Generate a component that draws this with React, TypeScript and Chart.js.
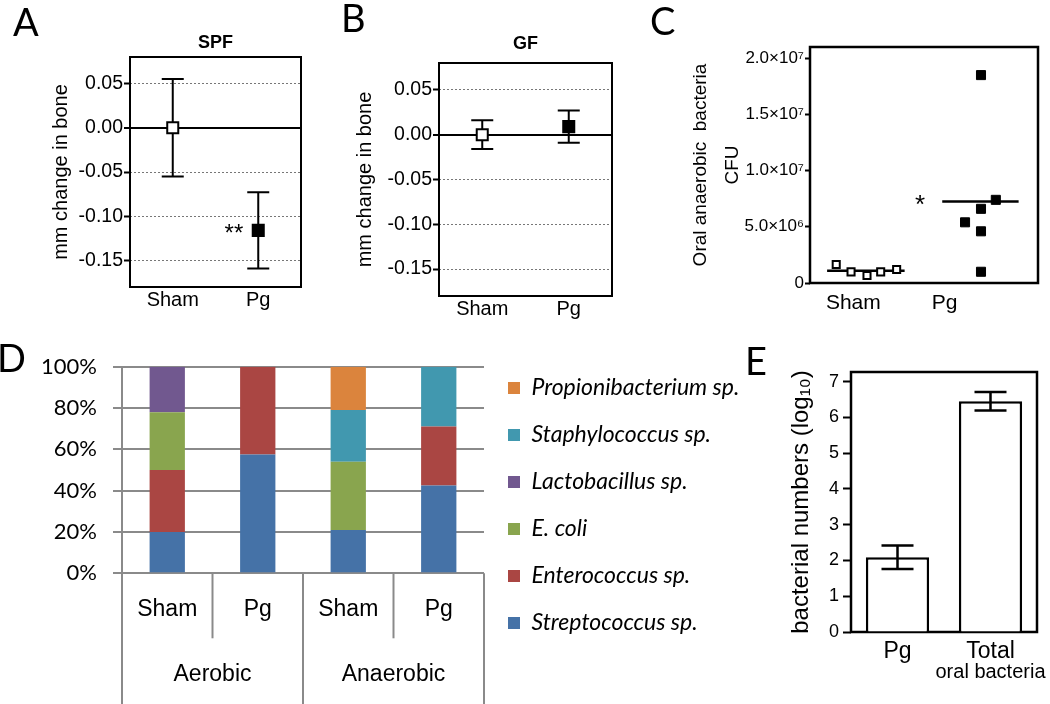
import React, { useEffect, useRef } from 'react';
import { Chart, registerables } from 'chart.js';

Chart.register(...registerables);

const ARIAL = '"Liberation Sans", Arial, Helvetica, sans-serif';
const CALIBRI = 'Lato, "Open Sans", sans-serif';
const GRID = '#8a8a8a';

// ---------------- data ----------------
// A / B : bone change
const boneGroups = ['Sham', 'Pg'];
const boneTicks = [-0.15, -0.1, -0.05, 0, 0.05];
const spfMeans = [0, -0.116];
const spfErrors = [0.055, 0.043];
const gfMeans = [0, 0.009];
const gfErrors = [0.016, 0.018];

// C : oral anaerobic bacteria CFU
const cfuGroups = ['Sham', 'Pg'];
const cfuSham = [1.65e6, 0.99e6, 0.66e6, 0.99e6, 1.2e6];
const cfuPg = [1.85e7, 7.4e6, 6.6e6, 5.4e6, 4.6e6, 1.0e6];
const cfuMeans = [1.1e6, 7.25e6];
const cfuTicks = [0, 5e6, 1e7, 1.5e7, 2e7];
const cfuTickLabels = ['0', '5.0×10⁶', '1.0×10⁷', '1.5×10⁷', '2.0×10⁷'];

// D : composition
const compCategories = ['Sham', 'Pg', 'Sham', 'Pg'];
const compGroups = ['Aerobic', 'Anaerobic'];
const compTicks = [0, 20, 40, 60, 80, 100];
const streptococcus = [20, 57.5, 21, 42.5];
const enterococcus = [30, 42.5, 0, 28.5];
const eColi = [28, 0, 33, 0];
const lactobacillus = [22, 0, 0, 0];
const staphylococcus = [0, 0, 25, 29];
const propionibacterium = [0, 0, 21, 0];

// E : bacterial numbers
const countCategories = ['Pg', 'Total'];
const countSubLabel = 'oral bacteria';
const countTicks = [0, 1, 2, 3, 4, 5, 6, 7];
const countMeans = [2.09, 6.45];
const countErrors = [0.33, 0.26];

// ---------------- styles ----------------
const shamJitter = [-0.27, -0.14, 0, 0.12, 0.26];
const pgJitter = [0, 0.13, 0, -0.14, 0, 0];
const meanSpans = [[-0.35, 0.33], [0.66, 1.33]];
const cfuLabelPos = [-0.12, 0.68];

const speciesSeries = [
  { label: 'Streptococcus sp.', data: streptococcus, color: '#4572A7' },
  { label: 'Enterococcus sp.', data: enterococcus, color: '#AA4643' },
  { label: 'E. coli', data: eColi, color: '#89A54E' },
  { label: 'Lactobacillus sp.', data: lactobacillus, color: '#71588F' },
  { label: 'Staphylococcus sp.', data: staphylococcus, color: '#4198AF' },
  { label: 'Propionibacterium sp.', data: propionibacterium, color: '#DB843D' },
];

// ---------------- plugins ----------------
function framePlugin(width: number) {
  return {
    id: 'frame',
    beforeDatasetsDraw(chart: any) {
      const { ctx, chartArea: a } = chart;
      ctx.save();
      ctx.strokeStyle = '#000';
      ctx.lineWidth = width;
      ctx.strokeRect(a.left, a.top, a.right - a.left, a.bottom - a.top);
      ctx.restore();
    },
  };
}

function errorBarsPlugin(xs: number[], means: number[], errs: number[], cap: number, width: number, after: boolean) {
  const draw = (chart: any) => {
    const { ctx, scales } = chart;
    ctx.save();
    ctx.strokeStyle = '#000';
    ctx.lineWidth = width;
    means.forEach((m, i) => {
      const px = scales.x.getPixelForValue(xs[i]);
      const top = scales.y.getPixelForValue(m + errs[i]);
      const bot = scales.y.getPixelForValue(m - errs[i]);
      ctx.beginPath();
      ctx.moveTo(px, top); ctx.lineTo(px, bot);
      ctx.moveTo(px - cap, top); ctx.lineTo(px + cap, top);
      ctx.moveTo(px - cap, bot); ctx.lineTo(px + cap, bot);
      ctx.stroke();
    });
    ctx.restore();
  };
  return after ? { id: 'errorBars', afterDatasetsDraw: draw } : { id: 'errorBars', beforeDatasetsDraw: draw };
}

type Note = { x: number; y?: number; dx?: number; dy: number; text: string; font: string; align?: string };
function notesPlugin(items: Note[]) {
  return {
    id: 'notes',
    afterDatasetsDraw(chart: any) {
      const { ctx, scales, chartArea } = chart;
      items.forEach((it) => {
        const x = scales.x.getPixelForValue(it.x) + (it.dx || 0);
        const y = (it.y !== undefined ? scales.y.getPixelForValue(it.y) : chartArea.bottom) + it.dy;
        ctx.save();
        ctx.font = it.font;
        ctx.fillStyle = '#000';
        ctx.textAlign = it.align || 'center';
        ctx.textBaseline = 'middle';
        ctx.fillText(it.text, x, y);
        ctx.restore();
      });
    },
  };
}

const compAxisPlugin = {
  id: 'compAxis',
  afterDraw(chart: any) {
    const { ctx, chartArea: a, scales } = chart;
    const x = scales.x;
    const n = compCategories.length;
    const edge = (i: number) =>
      i === 0 ? a.left : i === n ? a.right : (x.getPixelForValue(i - 1) + x.getPixelForValue(i)) / 2;
    ctx.save();
    ctx.strokeStyle = GRID;
    ctx.lineWidth = 2;
    for (let i = 0; i <= n; i++) {
      const long = i % 2 === 0;
      ctx.beginPath();
      ctx.moveTo(edge(i), a.bottom);
      ctx.lineTo(edge(i), long ? chart.height : a.bottom + 65);
      ctx.stroke();
    }
    ctx.fillStyle = '#000';
    ctx.font = `23px ${ARIAL}`;
    ctx.textAlign = 'center';
    ctx.textBaseline = 'middle';
    compGroups.forEach((g, k) => {
      ctx.fillText(g, (edge(2 * k) + edge(2 * k + 2)) / 2, a.bottom + 101.7);
    });
    ctx.restore();
  },
};

// lets the right-hand legend be wider than Chart.js' default quarter-width limit
const legendRoomPlugin = {
  id: 'legendRoom',
  beforeLayout(chart: any) {
    const lg = chart.legend;
    if (!lg || lg.__roomy) return;
    const orig = lg.update.bind(lg);
    lg.update = (mw: number, mh: number, margins: any) => orig(Math.max(mw, 320), mh, margins);
    lg.__roomy = true;
  },
};

const base = { responsive: false, animation: false, devicePixelRatio: 1, events: [] as any[] };

// ---------------- A / B ----------------
type BoneGeo = { axisW: number; right: number; titleTop: number; titleBottom: number; xH: number; yTitlePad: number };

function makeBone(canvas: HTMLCanvasElement, title: string, means: number[], errs: number[], g: BoneGeo, stars: Note[]) {
  const xs = means.map((_, i) => i);
  return new Chart(canvas, {
    type: 'scatter',
    data: {
      datasets: [
        {
          data: means.map((m, i) => ({ x: i, y: m })),
          pointStyle: 'rect',
          pointRadius: 7.8,
          pointHoverRadius: 7.8,
          pointBackgroundColor: ['#ffffff', '#000000'],
          pointBorderColor: '#000',
          pointBorderWidth: 2,
        },
      ],
    },
    options: {
      ...base,
      layout: { padding: { left: 0, right: g.right, top: 0, bottom: 0 } },
      plugins: {
        legend: { display: false },
        tooltip: { enabled: false },
        title: {
          display: true,
          text: title,
          fullSize: false,
          color: '#000',
          font: { family: ARIAL, size: 18, weight: 'bold' },
          padding: { top: g.titleTop, bottom: g.titleBottom },
        },
      },
      scales: {
        x: {
          type: 'linear',
          min: -0.5,
          max: 1.5,
          afterBuildTicks: (s: any) => { s.ticks = xs.map((v) => ({ value: v })); },
          afterFit: (s: any) => { s.height = g.xH; },
          grid: { display: false, drawTicks: false },
          border: { display: false },
          ticks: {
            callback: (_v: any, i: number) => boneGroups[i],
            color: '#000',
            font: { family: ARIAL, size: 20 },
            padding: 1,
            maxRotation: 0,
            autoSkip: false,
          },
        },
        y: {
          min: -0.18,
          max: 0.08,
          afterBuildTicks: (s: any) => { s.ticks = boneTicks.map((v) => ({ value: v })); },
          afterFit: (s: any) => { s.width = g.axisW; },
          grid: {
            color: (c: any) => (c.tick && c.tick.value === 0 ? '#000' : '#777'),
            lineWidth: (c: any) => (c.tick && c.tick.value === 0 ? 2 : 1),
            tickColor: '#000',
            tickWidth: 2,
            tickLength: 6,
          },
          border: { display: false, dash: (c: any) => (c.tick && c.tick.value === 0 ? [] : [2, 2]) },
          ticks: {
            callback: (v: any) => Number(v).toFixed(2),
            color: '#000',
            font: { family: ARIAL, size: 19.5 },
            padding: 1,
          },
          title: {
            display: true,
            text: 'mm change in bone',
            color: '#000',
            font: { family: ARIAL, size: 20 },
            padding: { top: g.yTitlePad, bottom: 0 },
          },
        },
      },
    } as any,
    plugins: [framePlugin(2), errorBarsPlugin(xs, means, errs, 11, 2, false), notesPlugin(stars)] as any,
  });
}

const makeA = (c: HTMLCanvasElement) =>
  makeBone(c, 'SPF', spfMeans, spfErrors,
    { axisW: 130, right: 34, titleTop: 32.2, titleBottom: 3.2, xH: 38, yTitlePad: 49 },
    [{ x: 1, y: spfMeans[1], dx: -15, dy: 4, text: '**', font: `24px ${ARIAL}`, align: 'right' }]);

const makeB = (c: HTMLCanvasElement) =>
  makeBone(c, 'GF', gfMeans, gfErrors,
    { axisW: 104, right: 23, titleTop: 33.2, titleBottom: 8.2, xH: 29, yTitlePad: 18 }, []);

// ---------------- C ----------------
const makeC = (canvas: HTMLCanvasElement) =>
  new Chart(canvas, {
    type: 'scatter',
    data: {
      datasets: [
        {
          data: cfuSham.map((v, i) => ({ x: 0 + shamJitter[i], y: v })),
          pointStyle: 'rect',
          pointRadius: 5,
          pointHoverRadius: 5,
          pointBackgroundColor: '#fff',
          pointBorderColor: '#000',
          pointBorderWidth: 2,
        },
        {
          data: cfuPg.map((v, i) => ({ x: 1 + pgJitter[i], y: v })),
          pointStyle: 'rect',
          pointRadius: 6.4,
          pointHoverRadius: 6.4,
          pointBackgroundColor: '#000',
          pointBorderColor: '#000',
          pointBorderWidth: 1,
        },
        ...cfuMeans.map((m, i) => ({
          data: [{ x: meanSpans[i][0], y: m }, { x: meanSpans[i][1], y: m }],
          showLine: true,
          borderColor: '#000',
          borderWidth: 2.5,
          pointRadius: 0,
          pointHoverRadius: 0,
        })),
      ],
    },
    options: {
      ...base,
      layout: { padding: { left: 0, right: 12, top: 47, bottom: 0 } },
      plugins: { legend: { display: false }, tooltip: { enabled: false } },
      scales: {
        x: {
          type: 'linear',
          min: -0.5,
          max: 1.5,
          afterBuildTicks: (s: any) => { s.ticks = cfuLabelPos.map((v) => ({ value: v })); },
          afterFit: (s: any) => { s.height = 42; },
          grid: { display: false, drawTicks: false },
          border: { display: false },
          ticks: {
            callback: (_v: any, i: number) => cfuGroups[i],
            color: '#000',
            font: { family: ARIAL, size: 21 },
            padding: 8,
            maxRotation: 0,
            autoSkip: false,
          },
        },
        y: {
          min: 0,
          max: 2.1e7,
          afterBuildTicks: (s: any) => { s.ticks = cfuTicks.map((v) => ({ value: v })); },
          afterFit: (s: any) => { s.width = 170; },
          grid: { drawOnChartArea: false, tickColor: '#000', tickWidth: 2, tickLength: 5 },
          border: { display: false },
          ticks: {
            callback: (_v: any, i: number) => cfuTickLabels[i],
            color: '#000',
            font: { family: ARIAL, size: 17 },
            padding: 1,
          },
          title: {
            display: true,
            text: ['Oral anaerobic  bacteria', 'CFU'],
            color: '#000',
            font: { family: ARIAL, size: 19, lineHeight: '32px' },
            padding: { top: 45, bottom: 0 },
          },
        },
      },
    } as any,
    plugins: [
      framePlugin(2.5),
      notesPlugin([{ x: 1, y: cfuMeans[1], dx: -61, dy: 4, text: '*', font: `26px ${ARIAL}` }]),
    ] as any,
  });

// ---------------- D ----------------
const D_RIGHT = 484;
const makeD = (canvas: HTMLCanvasElement) => {
  const chart = new Chart(canvas, {
    type: 'bar',
    data: {
      labels: compCategories,
      datasets: speciesSeries.map((s) => ({
        label: s.label,
        data: s.data,
        backgroundColor: s.color,
        borderWidth: 0,
        barPercentage: 0.39,
        categoryPercentage: 1,
      })),
    },
    options: {
      ...base,
      layout: { padding: { left: 0, right: 0, top: 0, bottom: 23 } },
      plugins: {
        tooltip: { enabled: false },
        title: {
          display: true,
          text: ' ',
          fullSize: false,
          font: { size: 10 },
          padding: { top: 24.7, bottom: 0 },
        },
        legend: {
          position: 'right',
          reverse: true,
          labels: {
            boxWidth: 12,
            boxHeight: 12,
            padding: 24,
            color: '#000',
            font: { family: CALIBRI, size: 23, style: 'italic' },
          },
        },
      },
      scales: {
        x: {
          stacked: true,
          afterFit: (s: any) => { s.height = 107.7; },
          grid: { display: false, drawTicks: false },
          border: { display: false },
          ticks: {
            color: '#000',
            font: { family: ARIAL, size: 23 },
            padding: 22.9,
            maxRotation: 0,
            autoSkip: false,
          },
        },
        y: {
          stacked: true,
          min: 0,
          max: 100,
          afterBuildTicks: (s: any) => { s.ticks = compTicks.map((v) => ({ value: v })); },
          afterFit: (s: any) => { s.width = 122; },
          grid: { color: GRID, lineWidth: 2, tickLength: 9, tickColor: GRID, tickWidth: 2 },
          border: { display: true, color: GRID, width: 2 },
          ticks: {
            callback: (v: any) => v + '%',
            color: '#000',
            font: { family: CALIBRI, size: 22 },
            padding: 16,
          },
        },
      },
    } as any,
    plugins: [legendRoomPlugin, compAxisPlugin] as any,
  });
  const diff = chart.chartArea.right - D_RIGHT;
  if (Math.abs(diff) > 0.25) {
    (chart.options as any).layout.padding.right = diff;
    chart.update();
  }
  return chart;
};

// ---------------- E ----------------
const makeE = (canvas: HTMLCanvasElement) =>
  new Chart(canvas, {
    type: 'bar',
    data: {
      labels: countCategories,
      datasets: [
        {
          data: countMeans,
          backgroundColor: '#fff',
          borderColor: '#000',
          borderWidth: 2.5,
          barPercentage: 0.68,
          categoryPercentage: 1,
        },
      ],
    },
    options: {
      ...base,
      layout: { padding: { left: 0, right: 13, top: 42, bottom: 0 } },
      plugins: { legend: { display: false }, tooltip: { enabled: false } },
      scales: {
        x: {
          afterFit: (s: any) => { s.height = 72; },
          grid: { display: false, drawTicks: false },
          border: { display: false },
          ticks: { color: '#000', font: { family: ARIAL, size: 23 }, padding: 6, maxRotation: 0 },
        },
        y: {
          min: 0,
          max: 7.27,
          afterBuildTicks: (s: any) => { s.ticks = countTicks.map((v) => ({ value: v })); },
          afterFit: (s: any) => { s.width = 71; },
          grid: { drawOnChartArea: false, tickColor: '#000', tickWidth: 2, tickLength: 8 },
          border: { display: false },
          ticks: { color: '#000', font: { family: ARIAL, size: 18 }, padding: 4 },
          title: {
            display: true,
            text: 'bacterial numbers (log₁₀)',
            color: '#000',
            font: { family: ARIAL, size: 24 },
            padding: { top: 6.6, bottom: 0 },
          },
        },
      },
    } as any,
    plugins: [
      framePlugin(2.5),
      errorBarsPlugin([0, 1], countMeans, countErrors, 16, 2.5, true),
      notesPlugin([{ x: 1, dy: 40, text: countSubLabel, font: `20px ${ARIAL}` }]),
    ] as any,
  });

// ---------------- components ----------------
type Maker = (c: HTMLCanvasElement) => Chart;

function Panel({ x, y, w, h, make }: { x: number; y: number; w: number; h: number; make: Maker }) {
  const ref = useRef<HTMLCanvasElement>(null);
  useEffect(() => {
    if (!ref.current) return;
    const chart = make(ref.current);
    return () => chart.destroy();
  }, [make]);
  return (
    <canvas
      ref={ref}
      width={w}
      height={h}
      style={{ position: 'absolute', left: x, top: y, width: w, height: h }}
    />
  );
}

const letters = [
  { t: 'A', x: 13, y: 1.5 },
  { t: 'B', x: 341, y: -2 },
  { t: 'C', x: 650, y: 1 },
  { t: 'D', x: -3, y: 337.5 },
  { t: 'E', x: 745, y: 341 },
];

export default function App() {
  return (
    <div
      style={{
        position: 'absolute',
        left: 0,
        top: 0,
        width: 1050,
        height: 704,
        background: '#fff',
        overflow: 'hidden',
      }}
    >
      <Panel x={0} y={0} w={335} h={325} make={makeA} />
      <Panel x={335} y={0} w={300} h={325} make={makeB} />
      <Panel x={640} y={0} w={410} h={325} make={makeC} />
      <Panel x={0} y={330} w={760} h={374} make={makeD} />
      <Panel x={780} y={330} w={270} h={374} make={makeE} />
      {letters.map((l) => (
        <div
          key={l.t}
          style={{
            position: 'absolute',
            left: l.x,
            top: l.y,
            fontFamily: CALIBRI,
            fontSize: 38,
            lineHeight: 1,
            color: '#000',
          }}
        >
          {l.t}
        </div>
      ))}
    </div>
  );
}
